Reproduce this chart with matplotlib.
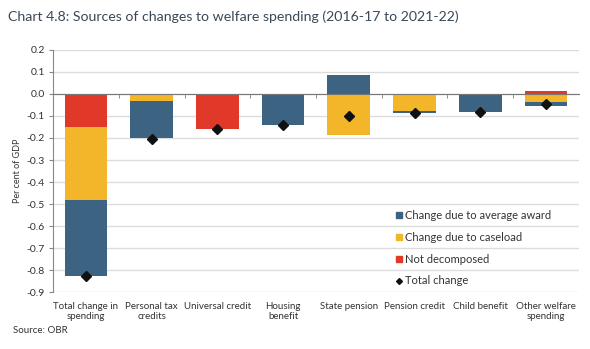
import numpy as np
import matplotlib
matplotlib.use("Agg")
import matplotlib.pyplot as plt
from matplotlib.lines import Line2D

plt.rcParams['font.family'] = ['Lato', 'DejaVu Sans']

categories = ['Total change in\nspending', 'Personal tax\ncredits', 'Universal credit',
              'Housing\nbenefit', 'State pension', 'Pension credit', 'Child benefit',
              'Other welfare\nspending']
# components, per cent of GDP
avg_award = [-0.345, -0.167, 0.0, -0.14, 0.085, -0.009, -0.079, -0.017]
caseload = [-0.33, -0.033, 0.0, 0.0, -0.185, -0.076, -0.003, -0.038]
not_decomposed = [-0.15, 0.0, -0.16, 0.0, 0.0, 0.0, 0.0, 0.013]
total_change = [-0.825, -0.205, -0.16, -0.14, -0.10, -0.088, -0.08, -0.044]

blue = '#3c6381'
yellow = '#f3b62b'
red = '#e0392a'
text_col = '#333333'

fig = plt.figure(figsize=(5.9, 3.49), dpi=100)
ax = fig.add_axes([0.09, 0.163, 0.891, 0.694])

x = np.arange(len(categories))
w = 0.65

# stack negatives and positives separately, order: not decomposed, caseload, award
neg = np.zeros(len(x))
pos = np.zeros(len(x))
for vals, col in [(not_decomposed, red), (caseload, yellow), (avg_award, blue)]:
    v = np.array(vals)
    base = np.where(v < 0, neg, pos)
    ax.bar(x, v, w, bottom=base, color=col, zorder=3)
    neg = neg + np.minimum(v, 0)
    pos = pos + np.maximum(v, 0)

ax.plot(x, total_change, 'D', color='#111111', markersize=5, zorder=4)

ax.set_xlim(-0.5, len(x) - 0.5)
ax.set_ylim(-0.9, 0.2)
ax.set_yticks(np.arange(-0.9, 0.21, 0.1))
ax.set_yticklabels(['%.1f' % t if abs(t) > 1e-9 else '0.0' for t in np.arange(-0.9, 0.21, 0.1)])
ax.yaxis.grid(True, color='#dcdcdc', linewidth=1)
ax.set_axisbelow(True)

for s in ['top', 'right']:
    ax.spines[s].set_visible(False)
ax.spines['left'].set_color('#888888')
ax.spines['left'].set_linewidth(0.8)
ax.spines['bottom'].set_position(('data', 0))
ax.spines['bottom'].set_color('#777777')
ax.spines['bottom'].set_linewidth(0.8)
ax.spines['bottom'].set_zorder(5)

ax.set_xticks(x)
ax.set_xticklabels([])
ax.tick_params(axis='x', which='major', length=0)
ax.set_xticks(np.arange(0.5, len(x) - 0.5, 1), minor=True)
ax.tick_params(axis='x', which='minor', length=3, direction='out', color='#777777')
ax.tick_params(axis='y', length=3, color='#888888', labelsize=7.5, labelcolor=text_col, pad=3)

sec = ax.secondary_xaxis(location=0)
sec.set_xticks(x)
sec.set_xticklabels(categories, fontsize=7, color=text_col, linespacing=1.1)
sec.tick_params(length=0, pad=7)
sec.spines['bottom'].set_visible(False)

ax.set_ylabel('Per cent of GDP', fontsize=6.5, color=text_col, labelpad=3)

handles = [Line2D([], [], marker='s', linestyle='none', color=blue, markersize=4.5),
           Line2D([], [], marker='s', linestyle='none', color=yellow, markersize=4.5),
           Line2D([], [], marker='s', linestyle='none', color=red, markersize=4.5),
           Line2D([], [], marker='D', linestyle='none', color='#111111', markersize=3)]
labels = ['Change due to average award', 'Change due to caseload',
          'Not decomposed', 'Total change']
ax.legend(handles, labels, loc='lower left', bbox_to_anchor=(0.632, -0.018),
          frameon=False, fontsize=8, labelspacing=0.98, handlelength=0.6,
          handletextpad=0.3, labelcolor=text_col)

fig.text(0.014, 0.94, 'Chart 4.8: Sources of changes to welfare spending (2016-17 to 2021-22)',
         fontsize=10.2, color='#3b4856')
fig.text(0.022, 0.045, 'Source: OBR', fontsize=7, color=text_col)

fig.savefig('out.png', dpi=100)
